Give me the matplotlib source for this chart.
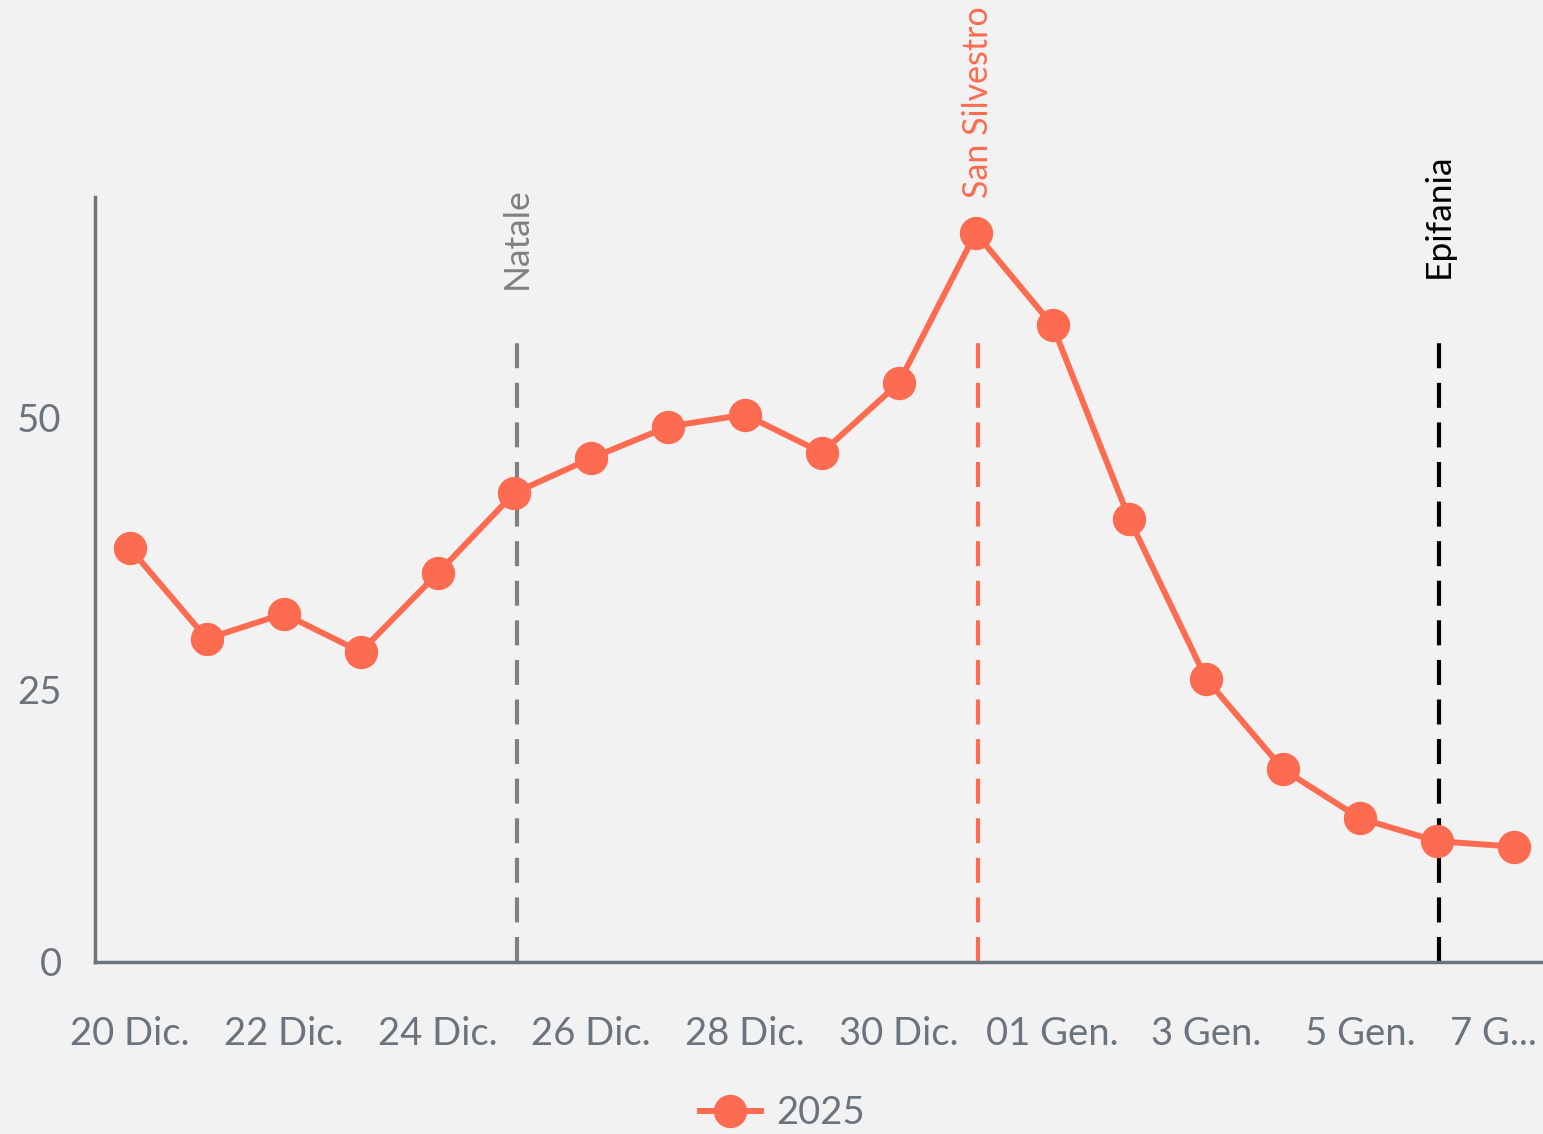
import matplotlib.pyplot as plt
import matplotlib.transforms as mtransforms
import numpy as np

plt.rcParams['font.family'] = ['Lato', 'DejaVu Sans']

days = ["20 Dic.", "21 Dic.", "22 Dic.", "23 Dic.", "24 Dic.", "25 Dic.", "26 Dic.",
        "27 Dic.", "28 Dic.", "29 Dic.", "30 Dic.", "31 Dic.", "01 Gen.", "2 Gen.",
        "3 Gen.", "4 Gen.", "5 Gen.", "6 Gen.", "7 G..."]
values_2025 = [38.0, 29.7, 32.0, 28.5, 35.7, 43.1, 46.3, 49.2, 50.3, 46.8, 53.2,
               67.0, 58.5, 40.7, 26.0, 17.7, 13.2, 11.1, 10.6]

# holiday markers: (day index, label, colour, label y position)
holidays = [(5, "Natale", "#808080", 61.8),
            (11, "San Silvestro", "#fd6b50", 70.2),
            (17, "Epifania", "#000000", 62.9)]

line_color = "#fd6b50"
axis_color = "#6b737c"
bg = "#f2f2f2"

fig = plt.figure(figsize=(15.43, 11.34), dpi=100, facecolor=bg)
ax = fig.add_axes([0.0616, 0.1517, 0.9384, 0.6746])
ax.set_facecolor(bg)

x = np.arange(len(days))
ax.plot(x, values_2025, color=line_color, lw=4.3, marker="o", markersize=23,
        label="2025", zorder=3)

for idx, name, col, ty in holidays:
    ax.plot([idx + 0.03, idx + 0.03], [0, 57.8], color=col, lw=3,
            dashes=(6, 3.5), zorder=2)
    fs = 24.5 if name == "San Silvestro" else 25.5
    ax.text(idx + 0.03, ty, name, rotation=90, color=col, fontsize=fs,
            ha="center", va="bottom", clip_on=False)

ax.set_xlim(-0.455, 18.38)
ax.set_ylim(0, 70.3)
ax.set_yticks([0, 25, 50])
ax.set_xticks(x[::2])
ax.set_xticklabels(days[::2])
ax.tick_params(axis="both", length=0, labelsize=27.5, labelcolor=axis_color)
ax.tick_params(axis="x", pad=39)
ax.tick_params(axis="y", pad=24)

# last label is squeezed in against the right edge
last = ax.get_xticklabels()[-1]
last.set_transform(last.get_transform() +
                   mtransforms.ScaledTranslation(-0.2, 0, fig.dpi_scale_trans))

for s in ["top", "right"]:
    ax.spines[s].set_visible(False)
for s in ["left", "bottom"]:
    ax.spines[s].set_color(axis_color)
    ax.spines[s].set_linewidth(2.5)

leg = fig.legend(loc="center", bbox_to_anchor=(0.507, 0.0185),
                 frameon=False, fontsize=27.5, handlelength=1.6, handletextpad=0.4,
                 markerscale=1.0)
for t in leg.get_texts():
    t.set_color(axis_color)

fig.savefig("out.png", dpi=100, facecolor=bg)
